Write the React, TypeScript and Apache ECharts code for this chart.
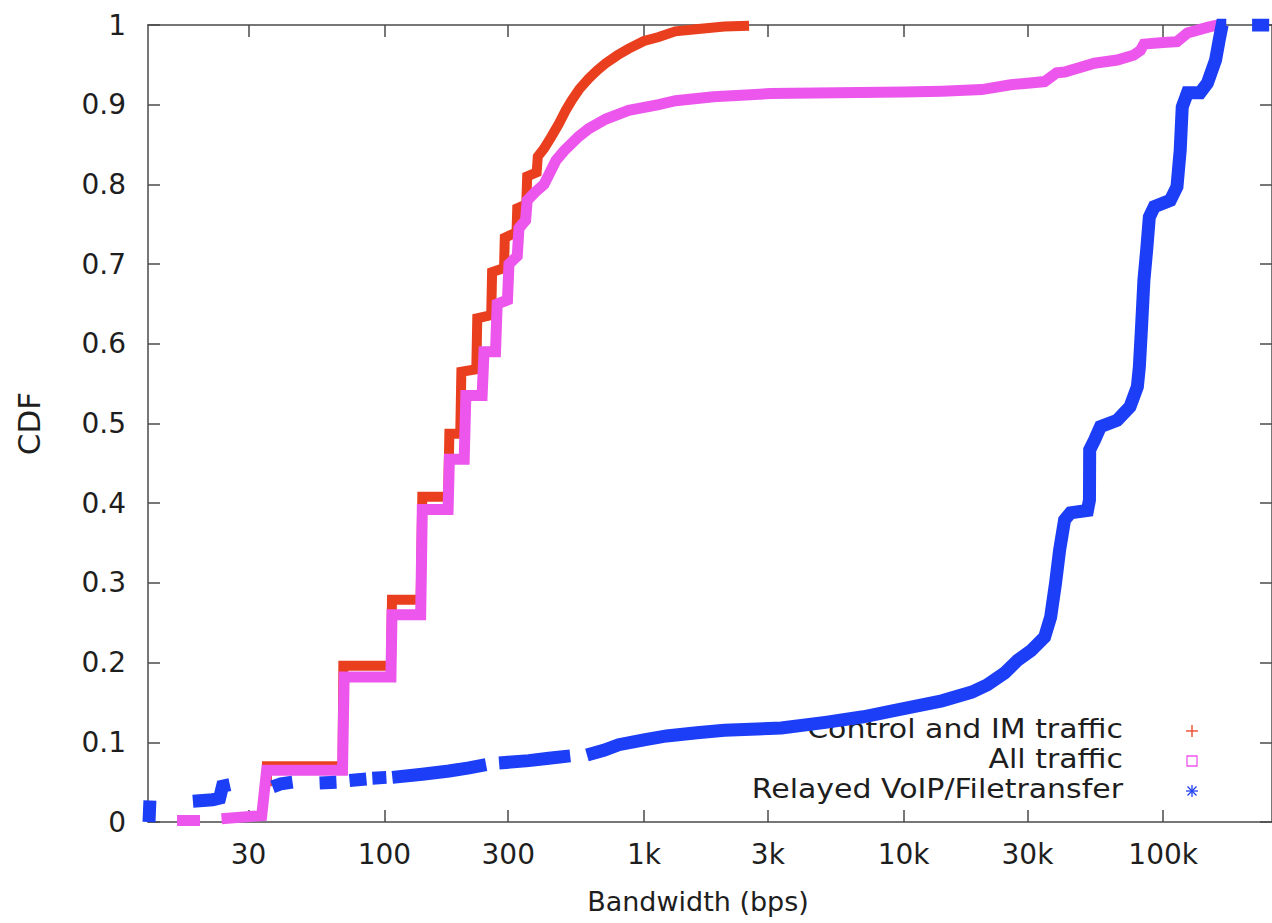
import React, { useEffect, useRef } from 'react';
import * as echarts from 'echarts';

// ---- axis definitions ----
const X_MIN_BPS = 12.29;
const X_MAX_BPS = 262500;
const xTickValues = [30, 100, 300, 1000, 3000, 10000, 30000, 100000];
const xTickLabels = ['30', '100', '300', '1k', '3k', '10k', '30k', '100k'];
const yMin = 0;
const yMax = 1;
const yStep = 0.1;

// ---- series ----
const seriesNames = ['Control and IM traffic', 'All traffic', 'Relayed VoIP/Filetransfer'];
const seriesColors = ['#ea3f1f', '#ec56ec', '#1c3ef6'];

// [bandwidth (bps), CDF]; null marks a gap between runs of points
const controlImTraffic: ([number, number] | null)[] = [
  [35.3, 0.045], [35.3, 0.07], [69, 0.07], [69.5, 0.196], [106, 0.196],
  [107, 0.279], [138, 0.279], [140, 0.408], [176, 0.408], [178, 0.487], [196, 0.487],
  [198, 0.565], [226, 0.568], [228, 0.632], [258, 0.636], [260, 0.69], [289, 0.695],
  [291, 0.733], [323, 0.74], [325, 0.77], [352, 0.775], [355, 0.81], [386, 0.815],
  [390, 0.835], [412, 0.845], [440, 0.86], [470, 0.876], [500, 0.893], [528, 0.906],
  [565, 0.92], [613, 0.933], [660, 0.943], [713, 0.952], [790, 0.962], [870, 0.97],
  [1000, 0.98], [1140, 0.985], [1320, 0.992], [1620, 0.995], [2040, 0.998], [2540, 0.999],
];

const allTraffic: ([number, number] | null)[] = [
  [15.9, 0.002], [19.5, 0.002], null,
  [23.6, 0.004], [33.7, 0.008], [35.2, 0.065], [69, 0.065], [70, 0.182], [106, 0.182],
  [107, 0.26], [138, 0.26], [140, 0.392], [176, 0.392], [178, 0.455], [203, 0.455],
  [206, 0.535], [238, 0.535], [242, 0.59], [268, 0.59], [272, 0.65], [298, 0.655],
  [302, 0.7], [325, 0.71], [330, 0.745], [350, 0.755], [355, 0.78], [380, 0.79],
  [412, 0.8], [458, 0.83], [492, 0.842], [560, 0.86], [613, 0.87], [713, 0.882],
  [873, 0.893], [1140, 0.9], [1323, 0.905], [1853, 0.91], [3067, 0.914], [10000, 0.916],
  [14050, 0.917], [20000, 0.919], [25860, 0.925], [30000, 0.927], [34930, 0.929],
  [38840, 0.94], [41700, 0.941], [54360, 0.952], [66500, 0.956], [76760, 0.962],
  [81660, 0.968], [84300, 0.976], [100000, 0.978], [113000, 0.979], [124000, 0.99],
  [148000, 0.997], [162000, 1.0], [168700, 1.0],
];

const relayedTraffic: ([number, number] | null)[] = [
  [12.4, 0.0], [12.5, 0.027], null,
  [18.3, 0.026], [21.8, 0.028], [23.2, 0.03], [23.8, 0.045], [25.4, 0.047], null,
  [37.1, 0.044], [40, 0.048], [44.3, 0.05], null,
  [56.3, 0.049], [65.4, 0.05], null,
  [73.4, 0.052], [85.3, 0.054], null,
  [89.9, 0.055], [101.8, 0.056], null,
  [107.3, 0.056], [140, 0.06], [177.6, 0.064], [212, 0.068], [246.5, 0.072], null,
  [276.6, 0.074], [360, 0.077], [430, 0.08], [520, 0.083], null,
  [603, 0.084], [700, 0.09], [800, 0.097], [1000, 0.103], [1222, 0.108], [1600, 0.112],
  [2040, 0.115], [3381, 0.118], [5000, 0.125], [7000, 0.132], [9267, 0.14], [14050, 0.152],
  [18320, 0.163], [21000, 0.172], [24520, 0.187], [27510, 0.203], [31000, 0.215],
  [34930, 0.232], [36850, 0.257], [38500, 0.3], [39900, 0.341], [41700, 0.379],
  [43970, 0.388], [51090, 0.391], [52000, 0.404], [52100, 0.467], [54360, 0.479],
  [57340, 0.496], [66500, 0.504], [74500, 0.521], [79520, 0.546], [80940, 0.571],
  [82500, 0.62], [84300, 0.68], [86500, 0.72], [88440, 0.759], [92430, 0.772],
  [106500, 0.78], [113000, 0.797], [116300, 0.843], [118400, 0.897], [124000, 0.915],
  [138800, 0.915], [148000, 0.927], [159100, 0.956], [164300, 0.981], [168700, 1.0],
  [175000, 1.0], null,
  [220000, 1.0], [256000, 1.0],
];

const FONT = "'DejaVu Sans', sans-serif";
const TEXT = '#1e1e1e';
const FRAME = '#4a4a4a';

function toLogData(points: ([number, number] | null)[]) {
  return points.map((p) => (p ? [Math.log10(p[0]), p[1]] : ['-', '-']));
}

export default function App() {
  const ref = useRef<HTMLDivElement>(null);

  useEffect(() => {
    if (!ref.current) return;
    const chart = echarts.init(ref.current, null, { renderer: 'svg' });

    const tickLogs = xTickValues.map((v) => Math.log10(v));
    const xLabel = (v: number) => {
      const i = tickLogs.findIndex((t) => Math.abs(t - v) < 1e-6);
      return i >= 0 ? xTickLabels[i] : '';
    };
    const lineCommon = { show: true, onZero: false, lineStyle: { color: FRAME, width: 1.5 } };
    const tickCommon = { show: true, inside: true, length: 12, lineStyle: { color: FRAME, width: 1.5 } };

    const datasets = [controlImTraffic, allTraffic, relayedTraffic];
    const widths = [10, 11, 13];

    // legend (gnuplot style: right-aligned text, key to the right)
    const legendX = 1123;
    const legendY = [729, 759, 789];
    const keyX = 1192;
    const graphics: any[] = [];
    seriesNames.forEach((name, i) => {
      graphics.push({
        type: 'text',
        x: legendX,
        y: legendY[i],
        scaleX: 1.11,
        silent: true,
        style: {
          text: name,
          fontSize: 27,
          fontFamily: FONT,
          fill: TEXT,
          textAlign: 'right',
          textVerticalAlign: 'middle',
        },
      });
    });
    const ky0 = legendY[0] + 2;
    const ky1 = legendY[1] + 2;
    const ky2 = legendY[2] + 2;
    const st = (c: string) => ({ stroke: c, lineWidth: 1.3, fill: 'none' });
    graphics.push(
      { type: 'line', silent: true, shape: { x1: keyX - 6, y1: ky0, x2: keyX + 6, y2: ky0 }, style: st(seriesColors[0]) },
      { type: 'line', silent: true, shape: { x1: keyX, y1: ky0 - 6, x2: keyX, y2: ky0 + 6 }, style: st(seriesColors[0]) },
      { type: 'rect', silent: true, shape: { x: keyX - 5, y: ky1 - 5, width: 10, height: 10 }, style: st(seriesColors[1]) },
      { type: 'line', silent: true, shape: { x1: keyX - 6, y1: ky2, x2: keyX + 6, y2: ky2 }, style: st(seriesColors[2]) },
      { type: 'line', silent: true, shape: { x1: keyX, y1: ky2 - 6, x2: keyX, y2: ky2 + 6 }, style: st(seriesColors[2]) },
      { type: 'line', silent: true, shape: { x1: keyX - 4.5, y1: ky2 - 4.5, x2: keyX + 4.5, y2: ky2 + 4.5 }, style: st(seriesColors[2]) },
      { type: 'line', silent: true, shape: { x1: keyX - 4.5, y1: ky2 + 4.5, x2: keyX + 4.5, y2: ky2 - 4.5 }, style: st(seriesColors[2]) },
    );

    const option: any = {
      animation: false,
      backgroundColor: '#ffffff',
      grid: { left: 148, top: 25, right: -3, bottom: 101, containLabel: false },
      xAxis: [
        {
          type: 'value',
          position: 'bottom',
          min: Math.log10(X_MIN_BPS),
          max: Math.log10(X_MAX_BPS),
          axisLine: lineCommon,
          axisTick: { ...tickCommon, customValues: tickLogs },
          axisLabel: {
            show: true,
            customValues: tickLogs,
            formatter: xLabel,
            margin: 18,
            fontSize: 28,
            fontFamily: FONT,
            color: TEXT,
          },
          splitLine: { show: false },
          name: 'Bandwidth (bps)',
          nameLocation: 'middle',
          nameGap: 66,
          nameTextStyle: { fontSize: 27, fontFamily: FONT, color: TEXT, padding: [0, 24, 0, 0] },
        },
        {
          type: 'value',
          position: 'top',
          min: Math.log10(X_MIN_BPS),
          max: Math.log10(X_MAX_BPS),
          axisLine: lineCommon,
          axisTick: { ...tickCommon, customValues: tickLogs },
          axisLabel: { show: false },
          splitLine: { show: false },
        },
      ],
      yAxis: [
        {
          type: 'value',
          position: 'left',
          min: yMin,
          max: yMax,
          interval: yStep,
          axisLine: lineCommon,
          axisTick: tickCommon,
          axisLabel: {
            show: true,
            margin: 22,
            fontSize: 28,
            fontFamily: FONT,
            color: TEXT,
            formatter: (v: number) => String(Math.round(v * 10) / 10),
          },
          splitLine: { show: false },
          name: 'CDF',
          nameLocation: 'middle',
          nameGap: 104,
          nameTextStyle: { fontSize: 31, fontFamily: FONT, color: TEXT },
        },
        {
          type: 'value',
          position: 'right',
          min: yMin,
          max: yMax,
          interval: yStep,
          axisLine: lineCommon,
          axisTick: tickCommon,
          axisLabel: { show: false },
          splitLine: { show: false },
        },
      ],
      series: datasets.map((d, i) => ({
        type: 'line',
        name: seriesNames[i],
        xAxisIndex: 0,
        yAxisIndex: 0,
        data: toLogData(d),
        showSymbol: false,
        symbol: 'none',
        connectNulls: false,
        silent: true,
        z: 2 + i,
        itemStyle: { color: seriesColors[i] },
        lineStyle: { color: seriesColors[i], width: widths[i], join: 'miter', cap: 'butt' },
      })),
      graphic: graphics,
    };

    chart.setOption(option);
    return () => chart.dispose();
  }, []);

  return (
    <div
      ref={ref}
      style={{ position: 'fixed', left: 0, top: 0, width: 1272, height: 923, background: '#ffffff' }}
    />
  );
}
